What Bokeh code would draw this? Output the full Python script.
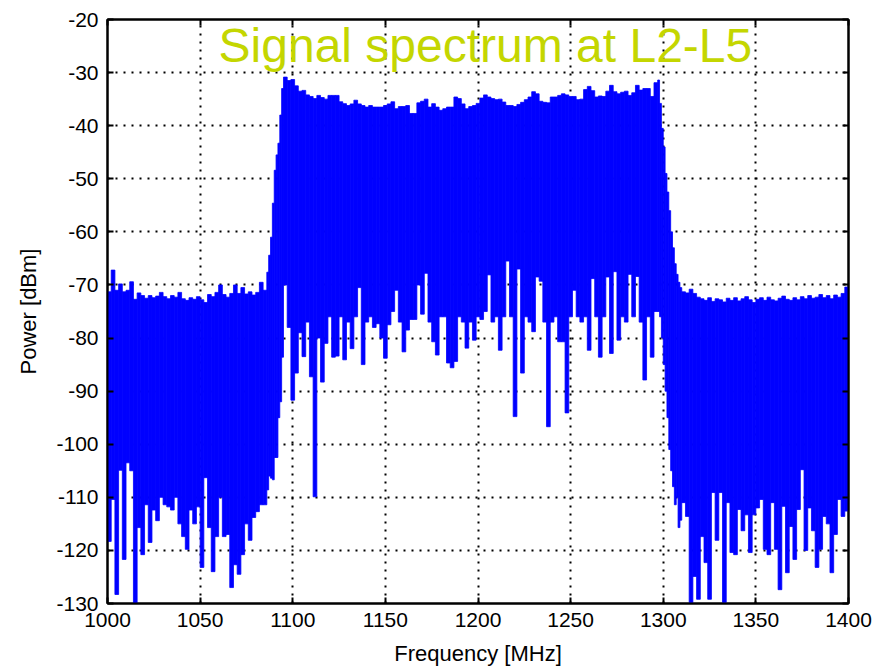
from bokeh.plotting import figure
from bokeh.models import Range1d, LinearAxis, Label, FixedTicker, ColumnDataSource, PrintfTickFormatter
from bokeh.embed import file_html
from bokeh.resources import INLINE

# ---------------- data ----------------
title_text = "Signal spectrum at L2-L5"
x_label = "Frequency [MHz]"
y_label = "Power [dBm]"
x_ticks = [1000, 1050, 1100, 1150, 1200, 1250, 1300, 1350, 1400]
y_ticks = [-130, -120, -110, -100, -90, -80, -70, -60, -50, -40, -30, -20]

# lower side band (bin start frequency, upper envelope, lower envelope)
low_freq = [1000, 1002, 1004, 1006, 1008, 1010, 1012, 1014, 1016, 1018, 1020, 1022, 1024, 1026, 1028,
            1030, 1032, 1034, 1036, 1038, 1040, 1042, 1044, 1046, 1048, 1050, 1052, 1054, 1056, 1058,
            1060, 1062, 1064, 1066, 1068, 1070, 1072, 1074, 1076, 1078, 1080, 1082, 1084]
low_top = [-71.3, -67.2, -71.0, -69.8, -71.3, -71.0, -69.4, -72.7, -71.5, -72.0, -72.5, -72.0, -72.4, -72.1, -71.4,
           -72.2, -72.6, -72.0, -72.3, -71.4, -72.6, -72.9, -72.4, -72.7, -72.2, -72.8, -73.3, -71.8, -72.2, -71.4,
           -70.0, -71.8, -72.3, -71.6, -70.0, -71.6, -70.5, -71.7, -71.3, -71.9, -71.4, -69.5, -71.0]
low_bottom = [-118.3, -110.4, -128.3, -104.9, -121.7, -103.5, -105.0, -130.0, -115.7, -120.8, -111.4, -118.5, -112.4, -114.4, -110.0,
              -111.4, -111.8, -112.4, -110.0, -115.0, -117.4, -119.8, -112.4, -115.0, -111.8, -123.2, -106.3, -115.7, -124.0, -117.4,
              -110.0, -117.4, -117.0, -127.0, -122.7, -124.5, -120.8, -115.0, -118.1, -113.8, -112.7, -111.4, -111.4]

# rising edge
rise_freq = [1086, 1087, 1088, 1089, 1090, 1091, 1092, 1093, 1094]
rise_top = [-67.6, -64.4, -61.0, -54.6, -48.4, -45.5, -43.3, -38.0, -33.0]
rise_bottom = [-108.6, -106.0, -106.4, -106.7, -102.5, -102.5, -95.0, -92.0, -83.6]

# pass band
pass_freq = [1095, 1097, 1099, 1101, 1103, 1105, 1107, 1109, 1111, 1113, 1115, 1117, 1119, 1121, 1123, 1125, 1127,
             1129, 1131, 1133, 1135, 1137, 1139, 1141, 1143, 1145, 1147, 1149, 1151, 1153, 1155, 1157, 1159, 1161,
             1163, 1165, 1167, 1169, 1171, 1173, 1175, 1177, 1179, 1181, 1183, 1185, 1187, 1189, 1191, 1193, 1195,
             1197, 1199, 1201, 1203, 1205, 1207, 1209, 1211, 1213, 1215, 1217, 1219, 1221, 1223, 1225, 1227, 1229,
             1231, 1233, 1235, 1237, 1239, 1241, 1243, 1245, 1247, 1249, 1251, 1253, 1255, 1257, 1259, 1261, 1263,
             1265, 1267, 1269, 1271, 1273, 1275, 1277, 1279, 1281, 1283, 1285, 1287, 1289, 1291, 1293, 1295]
pass_top = [-30.85, -31.5, -31.3, -32.5, -33.5, -33.35, -34.2, -34.5, -34.9, -34.3, -34.7, -35.0, -34.3, -34.3, -34.3, -35.5, -35.85,
            -36.2, -35.9, -35.2, -35.9, -36.2, -36.5, -36.2, -36.5, -36.5, -36.5, -36.2, -35.9, -35.5, -36.8, -36.4, -36.4, -36.2,
            -37.7, -37.7, -35.7, -35.4, -35.0, -36.5, -35.85, -36.5, -37.1, -36.8, -36.5, -36.5, -34.6, -34.9, -35.9, -36.8, -36.4,
            -36.2, -35.8, -34.8, -34.2, -34.6, -34.9, -35.1, -35.0, -35.55, -36.2, -36.2, -36.4, -36.0, -35.6, -35.1, -34.6, -33.6,
            -34.0, -35.4, -35.6, -35.7, -34.6, -34.6, -34.3, -34.0, -34.2, -34.5, -34.5, -35.1, -35.0, -33.2, -32.6, -33.4, -34.6,
            -34.4, -34.5, -33.5, -32.4, -33.6, -34.0, -33.7, -33.5, -34.3, -33.8, -32.4, -33.3, -33.0, -33.0, -34.5, -31.9]
pass_bottom = [-70.0, -78.0, -91.7, -86.6, -79.0, -83.5, -77.0, -87.3, -109.9, -80.0, -88.3, -81.0, -76.0, -83.6, -83.4, -76.0, -84.1,
               -77.0, -82.0, -76.0, -70.5, -85.0, -77.0, -76.0, -78.0, -77.3, -80.0, -83.8, -77.5, -75.0, -71.0, -77.0, -82.6, -78.5,
               -76.5, -76.5, -70.0, -75.5, -67.8, -77.0, -80.7, -83.2, -76.0, -76.0, -84.7, -85.6, -84.4, -76.0, -77.0, -81.9, -77.0,
               -80.4, -76.0, -76.5, -75.0, -68.1, -77.0, -76.0, -82.3, -76.0, -65.5, -76.0, -94.8, -67.0, -86.6, -76.0, -77.0, -78.8,
               -68.5, -69.3, -77.0, -96.7, -77.0, -76.0, -80.7, -80.7, -94.1, -76.0, -71.0, -76.0, -77.0, -76.0, -82.3, -68.8, -76.0,
               -83.6, -76.0, -68.5, -82.9, -67.5, -80.4, -76.0, -77.0, -68.0, -76.0, -68.4, -77.0, -87.9, -76.0, -83.6, -75.0]

# falling edge
fall_freq = [1297, 1298, 1299, 1300, 1301, 1302, 1303, 1304, 1305, 1306, 1307, 1308, 1309]
fall_top = [-31.4, -35.8, -40.5, -44.0, -49.0, -52.5, -56.0, -60.0, -63.0, -66.0, -68.0, -69.5, -70.5]
fall_bottom = [-75.0, -76.0, -80.0, -85.0, -90.0, -95.0, -101.0, -105.0, -108.0, -111.4, -110.0, -115.7, -114.3]

# upper side band
high_freq = [1310, 1312, 1314, 1316, 1318, 1320, 1322, 1324, 1326, 1328, 1330, 1332, 1334, 1336, 1338,
             1340, 1342, 1344, 1346, 1348, 1350, 1352, 1354, 1356, 1358, 1360, 1362, 1364, 1366, 1368,
             1370, 1372, 1374, 1376, 1378, 1380, 1382, 1384, 1386, 1388, 1390, 1392, 1394, 1396, 1398]
high_top = [-71.3, -71.5, -70.8, -71.6, -72.3, -72.6, -72.9, -72.4, -73.1, -72.6, -72.8, -73.2, -72.5, -72.9, -72.4,
            -73.0, -72.6, -72.2, -72.8, -73.3, -72.7, -72.4, -72.9, -72.3, -72.8, -73.0, -72.5, -72.1, -72.7, -72.9,
            -72.4, -72.8, -72.2, -72.6, -72.0, -72.5, -72.3, -71.8, -72.4, -72.0, -72.6, -71.9, -72.3, -71.6, -70.4]
high_bottom = [-111.0, -113.6, -129.8, -124.9, -129.2, -117.4, -122.3, -129.2, -109.1, -118.1, -109.1, -129.8, -111.0, -120.4, -120.8,
               -112.3, -116.3, -113.3, -120.4, -113.3, -112.0, -110.4, -119.8, -120.8, -111.0, -119.8, -127.4, -111.7, -124.2, -115.5,
               -121.7, -112.3, -104.8, -120.0, -112.0, -116.3, -123.2, -119.8, -113.6, -115.0, -124.2, -117.0, -110.4, -113.6, -112.6]

# ---------------- assemble ----------------
freq = low_freq + rise_freq + pass_freq + fall_freq + high_freq
top = low_top + rise_top + pass_top + fall_top + high_top
bottom = low_bottom + rise_bottom + pass_bottom + fall_bottom + high_bottom
right = freq[1:] + [x_ticks[-1]]

src = ColumnDataSource(dict(left=freq, right=right, top=top, bottom=bottom))

FONT = "Liberation Sans"

p = figure(width=884, height=668, output_backend="svg", toolbar_location=None,
           x_range=Range1d(1000, 1400), y_range=Range1d(-130, -20),
           min_border_left=107, min_border_right=36, min_border_top=19, min_border_bottom=64)
p.background_fill_color = "white"
p.border_fill_color = "white"
p.outline_line_color = "black"
p.outline_line_width = 2

p.quad(left="left", right="right", top="top", bottom="bottom", source=src,
       fill_color="#0000ff", line_color="#0000ff", line_width=0.8)

for ax in (p.xaxis[0], p.yaxis[0]):
    ax.formatter = PrintfTickFormatter(format="%d")
    ax.major_label_text_font = FONT
    ax.major_label_text_font_size = "21px"
    ax.major_label_text_color = "black"
    ax.axis_label_text_font = FONT
    ax.axis_label_text_font_size = "22px"
    ax.axis_label_text_font_style = "normal"
    ax.axis_label_text_color = "black"
    ax.axis_line_color = "black"
    ax.axis_line_width = 2
    ax.major_tick_in = 6
    ax.major_tick_out = 0
    ax.major_tick_line_width = 2
    ax.minor_tick_line_color = None

p.xaxis.ticker = FixedTicker(ticks=x_ticks)
p.yaxis.ticker = FixedTicker(ticks=y_ticks)
p.xaxis.axis_label = x_label
p.yaxis.axis_label = y_label
p.xaxis.major_label_standoff = 9
p.xaxis.axis_label_standoff = 11
p.yaxis.major_label_standoff = 9
p.yaxis.axis_label_standoff = 12

for loc, tk in (("right", y_ticks), ("above", x_ticks)):
    ax = LinearAxis(ticker=FixedTicker(ticks=tk), major_label_text_color=None,
                    major_label_standoff=0, axis_line_color="black", axis_line_width=2,
                    major_tick_in=6, major_tick_out=0, major_tick_line_width=2,
                    minor_tick_line_color=None)
    p.add_layout(ax, loc)

for g in (p.xgrid[0], p.ygrid[0]):
    g.grid_line_color = "black"
    g.grid_line_width = 2
    g.grid_line_dash = "2 6"
p.xgrid.ticker = FixedTicker(ticks=x_ticks)
p.ygrid.ticker = FixedTicker(ticks=y_ticks)

p.add_layout(Label(x=1204, y=-24.9, text=title_text, text_align="center", text_baseline="alphabetic",
                   text_font=FONT, text_font_size="48px", text_color="#c4d600"))

open("out.html", "w").write(file_html(p, INLINE))
